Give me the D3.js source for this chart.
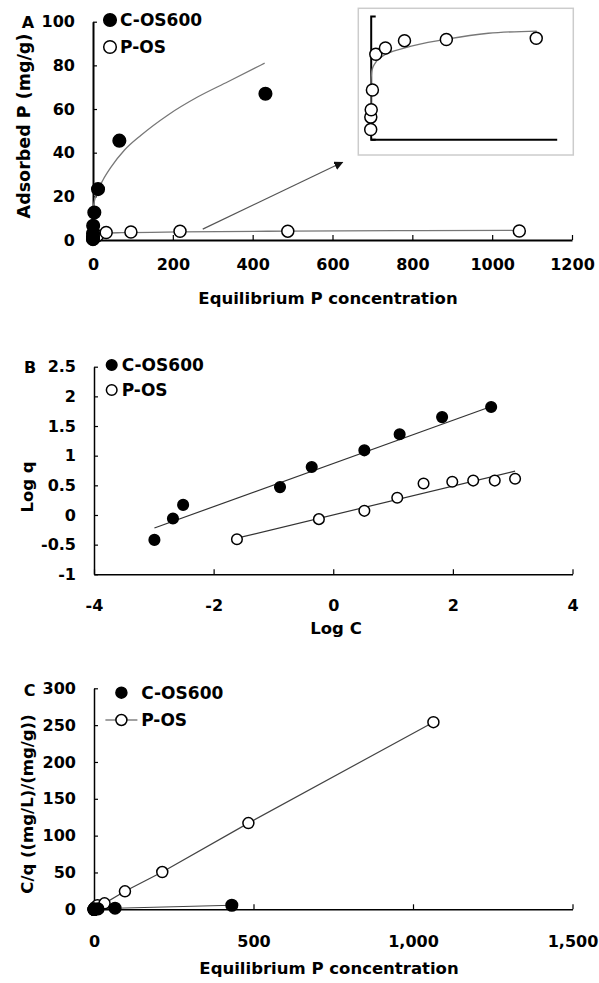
<!DOCTYPE html>
<html>
<head>
<meta charset="utf-8">
<script src="https://cdn.jsdelivr.net/npm/d3@7"></script>
<style>
  body { margin: 0; background: #fff; }
  text { font-family: "DejaVu Sans", sans-serif; font-weight: bold; fill: #000; }
</style>
</head>
<body>
<div id="container"></div>
<script>
/* CONSTANTS AND GLOBALS */
const width = 599, height = 983;

/* DATA */
// panel A - isotherm
const aCarbonC = [0.001, 0.002, 0.003, 0.13, 0.43, 3.3, 12.6, 66, 432];
const aCarbonQ = [0.4, 0.9, 1.5, 3.0, 6.5, 12.6, 23.3, 45.5, 67];
const aPlainC = [0.03, 0.6, 3.3, 11, 33, 95, 218, 488, 1068];
const aPlainQ = [0.4, 0.9, 1.2, 2.0, 3.45, 3.7, 4.0, 4.05, 4.1];
const aCarbonFitC = [0.5, 4, 12.5, 25, 46, 79, 121, 188, 263, 338, 430];
const aCarbonFitQ = [15, 18.3, 22.9, 27.5, 33.6, 41.2, 48.1, 57.3, 65.6, 72.5, 81];
const aPlainFitC = [0, 1, 3, 8, 28, 71, 221, 490, 759, 1071];
const aPlainFitQ = [0.6, 2.0, 2.5, 2.8, 3.08, 3.35, 3.71, 4.06, 4.3, 4.39];
const aXTicks = [0, 200, 400, 600, 800, 1000, 1200];
const aYTicks = [0, 20, 40, 60, 80, 100];
const arrowFrom = [275, 5], arrowTo = [625, 35.6];

// panel B - Freundlich (log-log)
const bCarbonLogC = [-2.99, -2.68, -2.51, -0.89, -0.36, 0.52, 1.11, 1.82, 2.64];
const bCarbonLogQ = [-0.42, -0.06, 0.17, 0.47, 0.81, 1.09, 1.36, 1.65, 1.82];
const bPlainLogC = [-1.61, -0.24, 0.52, 1.07, 1.51, 1.99, 2.34, 2.70, 3.04];
const bPlainLogQ = [-0.41, -0.07, 0.07, 0.29, 0.53, 0.56, 0.58, 0.58, 0.61];
const bCarbonFitX = [-2.99, 2.64], bCarbonFitY = [-0.22, 1.83];
const bPlainFitX = [-1.61, 3.04], bPlainFitY = [-0.39, 0.74];
const bXTicks = [-4, -2, 0, 2, 4];
const bYTicks = [-1, -0.5, 0, 0.5, 1, 1.5, 2, 2.5];

// panel C - Langmuir (C/q vs C)
const cCarbonC = [0.001, 0.002, 0.003, 0.13, 0.43, 3.3, 12.6, 66, 432];
const cCarbonRatio = [0.003, 0.002, 0.002, 0.04, 0.07, 0.26, 0.54, 1.45, 5.5];
const cPlainC = [0.03, 0.6, 3.3, 11, 33, 97, 214, 484, 1064];
const cPlainRatio = [0.07, 0.66, 2.75, 5.6, 8.1, 24.4, 50.6, 117, 254];
const cXTicks = [0, 500, 1000, 1500];
const cYTicks = [0, 50, 100, 150, 200, 250, 300];

const legendNames = ["C-OS600", "P-OS"];

const zip = (xs, ys) => xs.map((x, i) => [x, ys[i]]);
// plain hyphen for negatives, like the original
const plain = d => String(d);

const svg = d3.select("#container")
  .append("svg")
  .attr("width", width)
  .attr("height", height);

svg.append("rect").attr("width", width).attr("height", height).attr("fill", "#fff");

svg.append("defs").append("marker")
  .attr("id", "arrowhead")
  .attr("viewBox", "0 0 10 10")
  .attr("refX", 9).attr("refY", 5)
  .attr("markerWidth", 9).attr("markerHeight", 9)
  .attr("markerUnits", "userSpaceOnUse")
  .attr("orient", "auto")
  .append("path").attr("d", "M0,0 L10,5 L0,10 Z").attr("fill", "#111");

function drawAxes(g, x, y, xTicks, yTicks, xFmt, yFmt, pad, lw) {
  const gx = g.append("g")
    .attr("transform", `translate(0,${y.range()[0]})`)
    .call(d3.axisBottom(x).tickValues(xTicks).tickFormat(xFmt)
      .tickSizeInner(-5).tickSizeOuter(0).tickPadding(pad.x));
  const gy = g.append("g")
    .attr("transform", `translate(${x.range()[0]},0)`)
    .call(d3.axisLeft(y).tickValues(yTicks).tickFormat(yFmt)
      .tickSizeInner(-4).tickSizeOuter(0).tickPadding(pad.y));
  [gx, gy].forEach(a => {
    a.select(".domain").attr("stroke", "#000").attr("stroke-width", lw);
    a.selectAll(".tick line").attr("stroke", "#000").attr("stroke-width", 1.2);
    a.selectAll(".tick text").style("font-size", "16px").attr("fill", "#000");
  });
}

function dots(g, pts, x, y, r, filled) {
  g.selectAll(null)
    .data(pts)
    .join("circle")
    .attr("cx", d => x(d[0]))
    .attr("cy", d => y(d[1]))
    .attr("r", r)
    .attr("fill", filled ? "#000" : "#fff")
    .attr("stroke", "#000")
    .attr("stroke-width", 1.5);
}

function legend(g, x0, y0, gap, r, textX, lineForPlain) {
  legendNames.forEach((name, i) => {
    const cy = y0 + i * gap;
    if (i === 1 && lineForPlain) {
      g.append("line").attr("x1", x0 - 16).attr("x2", x0 + 16)
        .attr("y1", cy).attr("y2", cy).attr("stroke", "#444").attr("stroke-width", 1.2);
    }
    g.append("circle").attr("cx", x0).attr("cy", cy).attr("r", r)
      .attr("fill", i === 0 ? "#000" : "#fff").attr("stroke", "#000").attr("stroke-width", 1.5);
    g.append("text").attr("x", textX).attr("y", cy).attr("dy", "0.36em")
      .style("font-size", "17px").text(name);
  });
}

function label(g, txt, x, y, size, rotate) {
  g.append("text")
    .attr("transform", `translate(${x},${y})` + (rotate ? " rotate(-90)" : ""))
    .attr("text-anchor", "middle").attr("dy", "0.36em")
    .style("font-size", size + "px").text(txt);
}

/* PANEL A */
const gA = svg.append("g");
const xA = d3.scaleLinear().domain([0, 1200]).range([93, 572]);
const yA = d3.scaleLinear().domain([0, 100]).range([240, 21.7]);
drawAxes(gA, xA, yA, aXTicks, aYTicks, plain, plain, { x: 19, y: 18 }, 2);

const lineA = d3.line().x(d => xA(d[0])).y(d => yA(d[1])).curve(d3.curveMonotoneX);
gA.append("path").attr("d", lineA(zip(aCarbonFitC, aCarbonFitQ)))
  .attr("fill", "none").attr("stroke", "#777").attr("stroke-width", 1.3);
gA.append("path").attr("d", lineA(zip(aPlainFitC, aPlainFitQ)))
  .attr("fill", "none").attr("stroke", "#777").attr("stroke-width", 1.3);
gA.append("line")
  .attr("x1", xA(arrowFrom[0])).attr("y1", yA(arrowFrom[1]))
  .attr("x2", xA(arrowTo[0])).attr("y2", yA(arrowTo[1]))
  .attr("stroke", "#555").attr("stroke-width", 1.2)
  .attr("marker-end", "url(#arrowhead)");
dots(gA, zip(aPlainC, aPlainQ), xA, yA, 6, false);
dots(gA, zip(aCarbonC, aCarbonQ), xA, yA, 6.3, true);
legend(gA, 110, 20, 27, 6.3, 120, false);
label(gA, "A", 28, 22, 16);
label(gA, "Adsorbed P (mg/g)", 24, 126, 17.5, true);
label(gA, "Equilibrium P concentration", 328, 298, 16.5);

// inset (P-OS only)
const gI = svg.append("g");
gI.append("rect").attr("x", 358.3).attr("y", 8.3).attr("width", 215).attr("height", 146.7)
  .attr("fill", "#fff").attr("stroke", "#ccc").attr("stroke-width", 1.5);
const xI = d3.scaleLinear().domain([0, 1200]).range([370.7, 556.7]);
const yI = d3.scaleLinear().domain([0, 5]).range([139.3, 16]);
gI.append("g").attr("transform", `translate(0,${yI(0)})`)
  .call(d3.axisBottom(xI).tickValues([]).tickSizeOuter(0))
  .select(".domain").attr("stroke", "#000").attr("stroke-width", 2);
gI.append("g").attr("transform", `translate(${xI(0)},0)`)
  .call(d3.axisLeft(yI).tickValues([]).tickSizeOuter(-5))
  .select(".domain").attr("stroke", "#000").attr("stroke-width", 2);
const lineI = d3.line().x(d => xI(d[0])).y(d => yI(d[1])).curve(d3.curveMonotoneX);
gI.append("path").attr("d", lineI(zip(aPlainFitC, aPlainFitQ)))
  .attr("fill", "none").attr("stroke", "#777").attr("stroke-width", 1.3);
dots(gI, zip(aPlainC, aPlainQ), xI, yI, 6, false);

/* PANEL B */
const gB = svg.append("g");
const xB = d3.scaleLinear().domain([-4, 4]).range([94, 572.5]);
const yB = d3.scaleLinear().domain([-1, 2.5]).range([574.3, 366.7]);
drawAxes(gB, xB, yB, bXTicks, bYTicks, plain, plain, { x: 25, y: 18 }, 1.5);
const lineB = d3.line().x(d => xB(d[0])).y(d => yB(d[1]));
gB.append("path").attr("d", lineB(zip(bCarbonFitX, bCarbonFitY)))
  .attr("fill", "none").attr("stroke", "#333").attr("stroke-width", 1.2);
gB.append("path").attr("d", lineB(zip(bPlainFitX, bPlainFitY)))
  .attr("fill", "none").attr("stroke", "#333").attr("stroke-width", 1.2);
dots(gB, zip(bCarbonLogC, bCarbonLogQ), xB, yB, 5.3, true);
dots(gB, zip(bPlainLogC, bPlainLogQ), xB, yB, 5.3, false);
legend(gB, 111.7, 365, 25, 5.3, 121.7, false);
label(gB, "B", 30, 367, 16);
label(gB, "Log q", 27, 487, 16.5, true);
label(gB, "Log C", 336, 628, 16.5);

/* PANEL C */
const gC = svg.append("g");
const xC = d3.scaleLinear().domain([0, 1500]).range([94, 572.5]);
const yC = d3.scaleLinear().domain([0, 300]).range([909.3, 688.3]);
drawAxes(gC, xC, yC, cXTicks, cYTicks, d3.format(","), plain, { x: 26, y: 18 }, 1.5);
const lineC = d3.line().x(d => xC(d[0])).y(d => yC(d[1]));
gC.append("path").attr("d", lineC(zip(cPlainC, cPlainRatio)))
  .attr("fill", "none").attr("stroke", "#444").attr("stroke-width", 1.2);
gC.append("path").attr("d", lineC(zip(cCarbonC, cCarbonRatio)))
  .attr("fill", "none").attr("stroke", "#444").attr("stroke-width", 1.2);
dots(gC, zip(cPlainC, cPlainRatio), xC, yC, 5.5, false);
dots(gC, zip(cCarbonC, cCarbonRatio), xC, yC, 5.8, true);
legend(gC, 121.4, 692.7, 27.3, 5.5, 141.2, true);
label(gC, "C", 29.5, 690, 16);
label(gC, "C/q ((mg/L)/(mg/g))", 27, 804, 16.5, true);
label(gC, "Equilibrium P concentration", 329, 968, 16.5);
</script>
</body>
</html>
